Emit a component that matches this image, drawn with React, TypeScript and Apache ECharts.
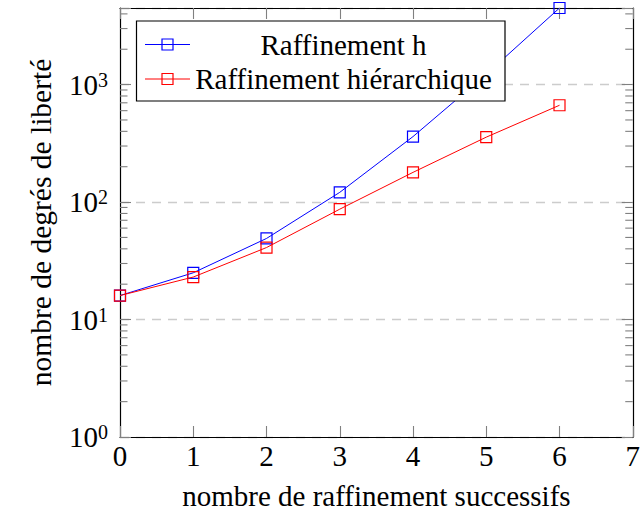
import React, { useEffect, useRef } from "react";
import * as echarts from "echarts";

const seriesNames = ["Raffinement h", "Raffinement hiérarchique"];
const seriesColors = ["#0000ff", "#ff0000"];
const xValues = [0, 1, 2, 3, 4, 5, 6];
const hValues = [16, 25, 49, 121, 361, 1225, 4489];
const hierValues = [16, 23, 41, 87, 179, 357, 667];
const xMin = 0;
const xMax = 7;
const yMin = 1;
const yMax = 4489;
const xTitle = "nombre de raffinement successifs";
const yTitle = "nombre de degrés de liberté";

const FONT = "'Liberation Serif', 'DejaVu Serif', serif";
const TICK_COLOR = "#808080";

// minor ticks of the log axis: 2..9 x 10^k within the range
const minorTickValues: number[] = [];
for (let k = 0; k < 4; k++) {
  for (let m = 2; m <= 9; m++) {
    const v = m * Math.pow(10, k);
    if (v < yMax) minorTickValues.push(v);
  }
}

export default function App() {
  const ref = useRef<HTMLDivElement>(null);
  useEffect(() => {
    document.body.style.margin = "0";
    if (!ref.current) return;
    const chart = echarts.init(ref.current, undefined, { renderer: "svg" });

    const logLabel = (v: number) => {
      const e = Math.round(Math.log10(v));
      if (Math.abs(v - Math.pow(10, e)) < 1e-6 * v) return `{b|10}{s|${e}}`;
      return "";
    };

    const seriesData = [hValues, hierValues];

    const legendRows = seriesNames.map((name, i) => {
      const cy = 44.5 + i * 34.5;
      return [
        {
          type: "line",
          z: 101,
          shape: { x1: 145, y1: cy, x2: 190, y2: cy },
          style: { stroke: seriesColors[i], lineWidth: 1 },
        },
        {
          type: "rect",
          z: 102,
          shape: { x: 162, y: cy - 5.5, width: 11, height: 11 },
          style: { fill: "rgba(0,0,0,0)", stroke: seriesColors[i], lineWidth: 1.2 },
        },
        {
          type: "text",
          z: 101,
          x: 343.5,
          y: cy,
          style: {
            text: name,
            fontSize: 29,
            fontFamily: FONT,
            fill: "#000",
            textAlign: "center",
            textVerticalAlign: "middle",
            align: "center",
            verticalAlign: "middle",
          },
        },
      ];
    });

    const legendGroup = {
      type: "group",
      id: "legend",
      z: 100,
      children: [
        {
          type: "rect",
          z: 100,
          shape: { x: 136.5, y: 21, width: 368.5, height: 80 },
          style: { fill: "#fff", stroke: "#000", lineWidth: 1.2 },
        },
        ...legendRows.flat(),
      ],
    };

    const axisBase = {
      axisLine: { show: true, onZero: false, lineStyle: { color: "#000", width: 1.2 } },
      axisTick: { show: true, inside: true, length: 11, lineStyle: { color: TICK_COLOR, width: 1.1 } },
    };

    const baseOption: any = {
      animation: false,
      backgroundColor: "#fff",
      grid: { left: 120, top: 8, right: 5, bottom: 77, containLabel: false },
      xAxis: [
        {
          type: "value",
          min: xMin,
          max: xMax,
          interval: 1,
          position: "bottom",
          name: xTitle,
          nameLocation: "middle",
          nameGap: 44,
          nameTextStyle: { fontSize: 29, fontFamily: FONT, color: "#000" },
          ...axisBase,
          axisLabel: { show: true, margin: 4, fontSize: 29, fontFamily: FONT, color: "#000", showMinLabel: true, showMaxLabel: true },
          splitLine: { show: false },
        },
        {
          type: "value",
          min: xMin,
          max: xMax,
          interval: 1,
          position: "top",
          ...axisBase,
          axisLabel: { show: false },
          splitLine: { show: false },
        },
      ],
      yAxis: [
        {
          type: "log",
          logBase: 10,
          min: yMin,
          max: yMax,
          interval: 1,
          position: "left",
          name: yTitle,
          nameLocation: "middle",
          nameGap: 64,
          nameTextStyle: { fontSize: 29.5, fontFamily: FONT, color: "#000" },
          ...axisBase,
          axisLabel: {
            show: true,
            margin: 12,
            formatter: logLabel,
            rich: {
              b: { fontSize: 29, fontFamily: FONT, color: "#000" },
              s: { fontSize: 20, fontFamily: FONT, color: "#000", padding: [0, 0, 10, 0] },
            },
          },
          splitLine: { show: true, lineStyle: { color: "#cccccc", width: 1.3, type: [9, 7] } },
        },
        {
          type: "log",
          logBase: 10,
          min: yMin,
          max: yMax,
          interval: 1,
          position: "right",
          ...axisBase,
          axisLabel: { show: false },
          splitLine: { show: false },
        },
      ],
      series: seriesNames.map((name, i) => ({
        type: "line",
        name,
        xAxisIndex: 0,
        yAxisIndex: 0,
        data: xValues.map((x, j) => [x, seriesData[i][j]]),
        symbol: "rect",
        symbolSize: 11,
        showSymbol: true,
        lineStyle: { color: seriesColors[i], width: 1 },
        itemStyle: { color: "rgba(0,0,0,0)", borderColor: seriesColors[i], borderWidth: 1.2 },
        z: 3 + i,
        silent: true,
      })),
    };

    chart.setOption(baseOption);

    // minor ticks placed through the axis scales
    const minorLines: any[] = [];
    try {
      minorTickValues.forEach((v) => {
        const pl = chart.convertToPixel({ xAxisIndex: 0, yAxisIndex: 0 }, [xMin, v]) as number[];
        const pr = chart.convertToPixel({ xAxisIndex: 0, yAxisIndex: 0 }, [xMax, v]) as number[];
        if (!pl || !pr || isNaN(pl[1])) return;
        minorLines.push(
          { type: "line", z: 1, shape: { x1: pl[0], y1: pl[1], x2: pl[0] + 7.5, y2: pl[1] }, style: { stroke: TICK_COLOR, lineWidth: 1.1 } },
          { type: "line", z: 1, shape: { x1: pr[0] - 7.5, y1: pr[1], x2: pr[0], y2: pr[1] }, style: { stroke: TICK_COLOR, lineWidth: 1.1 } }
        );
      });
    } catch (e) {
      // ignore
    }

    chart.setOption({ ...baseOption, graphic: [legendGroup, ...minorLines] }, true);

    return () => chart.dispose();
  }, []);
  return <div ref={ref} style={{ width: 643, height: 515 }} />;
}
